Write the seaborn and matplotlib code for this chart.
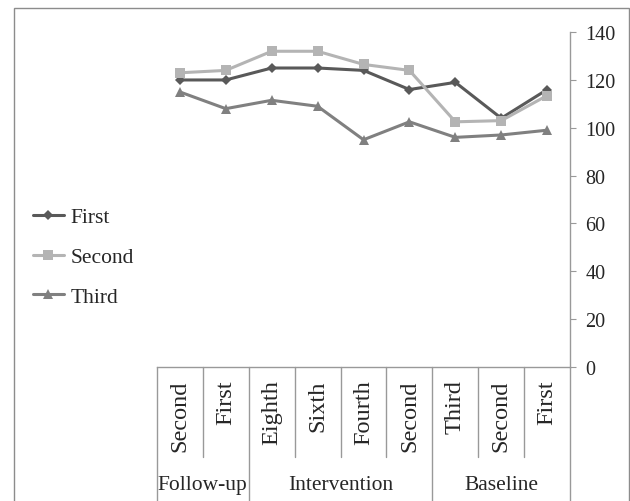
import matplotlib
matplotlib.use("Agg")
import matplotlib.pyplot as plt
from matplotlib.patches import Rectangle
import seaborn as sns
import pandas as pd

# sessions, left to right as in the chart
sessions = ["Second", "First", "Eighth", "Sixth", "Fourth", "Second",
            "Third", "Second", "First"]
phases = ["Follow-up", "Intervention", "Baseline"]
phase_sizes = [2, 4, 3]

first = [120, 120, 125, 125, 124, 116, 119, 104, 116]
second = [123, 124, 132, 132, 126.5, 124, 102.5, 103, 113.5]
third = [115, 108, 111.5, 109, 95, 102.5, 96, 97, 99]

series_names = ["First", "Second", "Third"]
colors = {"First": "#595959", "Second": "#b4b4b4", "Third": "#808080"}
markers = {"First": "D", "Second": "s", "Third": "^"}

rows = []
for name, vals in zip(series_names, [first, second, third]):
    for i, v in enumerate(vals):
        rows.append({"pos": i, "value": v, "series": name})
df = pd.DataFrame(rows)

sns.set_style("white")
plt.rcParams["font.family"] = ["Liberation Serif", "DejaVu Serif"]

fig = plt.figure(figsize=(6.3, 5.02), dpi=100)
ax = fig.add_axes([0.249, 0.267, 0.656, 0.667])

sns.lineplot(data=df, x="pos", y="value", hue="series", style="series",
             markers=markers, dashes=False, palette=colors,
             linewidth=2.2, markersize=7, markeredgewidth=0, ax=ax)
# diamond a bit smaller like the original
for line in ax.get_lines():
    if line.get_marker() == "D":
        line.set_markersize(5.5)

ax.set_xlim(-0.5, len(sessions) - 0.5)
ax.set_ylim(0, 140)
ax.set_yticks(range(0, 141, 20))
ax.yaxis.tick_right()
ax.tick_params(axis="y", which="major", direction="out", length=4,
               color="#999999", pad=7, labelsize=14.5, right=True, left=False)
ax.set_xticks(range(len(sessions)))
ax.set_xticklabels(sessions, rotation=90, fontsize=17.5)
ax.tick_params(axis="x", length=0, pad=9)
ax.set_xlabel("")
ax.set_ylabel("")

for s in ["top", "left"]:
    ax.spines[s].set_visible(False)
for s in ["right", "bottom"]:
    ax.spines[s].set_color("#999999")
    ax.spines[s].set_linewidth(1)

# table lines below the category axis
trans = ax.get_xaxis_transform()
bounds = [-0.5]
for n in phase_sizes:
    bounds.append(bounds[-1] + n)
for k in range(len(sessions) + 1):
    xb = k - 0.5
    ybot = -0.41 if xb in bounds else -0.27
    ax.plot([xb, xb], [0, ybot], color="#999999", lw=1, transform=trans,
            clip_on=False)

for j, name in enumerate(phases):
    xc = (bounds[j] + bounds[j + 1]) / 2
    ax.text(xc, -0.35, name, transform=trans, ha="center", va="center",
            fontsize=15.5)

handles, labels = ax.get_legend_handles_labels()
ax.legend(handles, labels, loc="center left", bbox_to_anchor=(0.021, 0.486),
          bbox_transform=fig.transFigure, frameon=False, fontsize=15.5,
          handlelength=1.45, handletextpad=0.3, labelspacing=0.92)

fig.patches.append(Rectangle((0.022, -0.01), 0.976, 0.992, fill=False,
                             edgecolor="#8c8c8c", lw=1,
                             transform=fig.transFigure, figure=fig))

fig.savefig("out.png", dpi=100)
